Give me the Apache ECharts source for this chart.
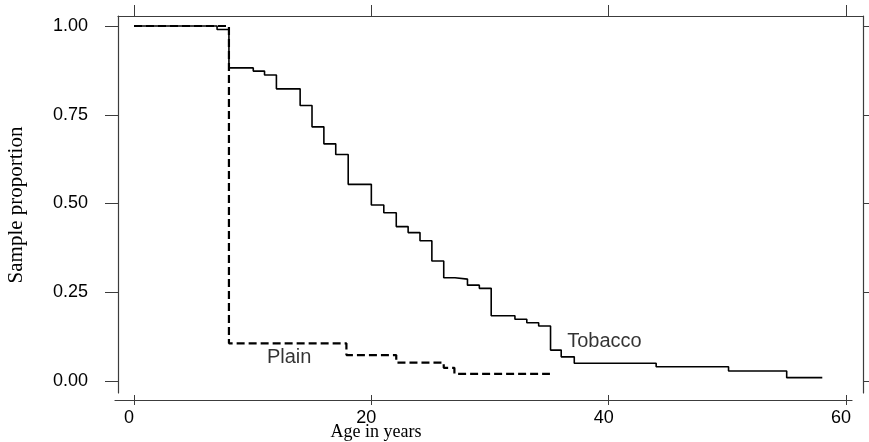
<!DOCTYPE html>
<html>
<head>
<meta charset="utf-8">
<script src="https://cdn.jsdelivr.net/npm/echarts@6/dist/echarts.min.js"></script>
<style>html,body{margin:0;padding:0;background:#fff;}#c{width:869px;height:442px;}</style>
</head>
<body>
<div id="c"></div>
<script>
// ---- data ----
const tobaccoTimes = [0, 7.0, 8.0, 10.05, 11.0, 12.0, 14.0, 15.0, 16.0, 17.0, 18.05, 20.0, 21.05, 22.1, 23.1, 24.1, 25.1, 26.1, 27.05, 28.1, 29.1, 30.1, 32.1, 33.1, 34.1, 35.1, 36.0, 37.1, 44.0, 50.1, 55.0, 58.0];
const tobaccoSurv  = [1.0, 0.99, 0.882, 0.873, 0.862, 0.823, 0.776, 0.716, 0.668, 0.638, 0.554, 0.496, 0.474, 0.435, 0.418, 0.395, 0.338, 0.291, 0.287, 0.270, 0.261, 0.184, 0.174, 0.164, 0.155, 0.087, 0.068, 0.050, 0.040, 0.028, 0.0094, 0.0094];
const plainTimes = [0, 8.0, 17.9, 22.1, 26.1, 27.0, 35.05];
const plainSurv  = [1.0, 0.106, 0.073, 0.052, 0.037, 0.020, 0.020];
const xTicks = [0, 20, 40, 60];
const yTicks = [0, 0.25, 0.5, 0.75, 1.0];
const yTickLabels = ['0.00', '0.25', '0.50', '0.75', '1.00'];
const curveLabels = [
  {name: 'Tobacco', x: 36.5, y: 0.110},
  {name: 'Plain', x: 11.2, y: 0.065}
];
const xTitle = 'Age in years';
const yTitle = 'Sample proportion';

const zip = (a, b) => a.map((v, i) => [v, b[i]]);
const frameColor = '#3c3c3c';
const sans = 'Liberation Sans, Arial, sans-serif';
const serif = 'Liberation Serif, Times New Roman, serif';

const chart = echarts.init(document.getElementById('c'));
chart.setOption({
  animation: false,
  backgroundColor: '#fff',
  grid: [
    {left: 118, right: 6, top: 16, bottom: 49},
    {left: 115, right: 17, top: 16, bottom: 42}
  ],
  xAxis: [
    { // data axis + top frame line
      gridIndex: 0, type: 'value', position: 'top',
      min: -1.348, max: 61.43,
      axisLine: {show: true, onZero: false, lineStyle: {color: frameColor, width: 1.2}},
      axisTick: {show: true, inside: false, length: 11, lineStyle: {color: frameColor}, customValues: xTicks},
      axisLabel: {show: false, customValues: xTicks},
      splitLine: {show: false}
    },
    { // bottom axis (labels, outward ticks)
      gridIndex: 1, type: 'value', position: 'bottom',
      min: -1.601, max: 60.50,
      axisLine: {show: true, onZero: false, lineStyle: {color: frameColor, width: 1.2}},
      axisTick: {show: true, inside: false, length: 5, lineStyle: {color: frameColor}, customValues: xTicks},
      axisLabel: {show: true, customValues: xTicks, formatter: v => String(v), color: '#000', fontFamily: sans, fontSize: 18, margin: 9, padding: [0, 10, 0, 0]},
      splitLine: {show: false}
    },
    { // bottom axis (inward ticks)
      gridIndex: 1, type: 'value', position: 'bottom',
      min: -1.601, max: 60.50,
      axisLine: {show: false, onZero: false},
      axisTick: {show: true, inside: true, length: 5, lineStyle: {color: frameColor}, customValues: xTicks},
      axisLabel: {show: false},
      splitLine: {show: false}
    }
  ],
  yAxis: [
    {
      gridIndex: 0, type: 'value', position: 'left',
      min: -0.0338, max: 1.0282,
      axisLine: {show: true, onZero: false, lineStyle: {color: frameColor, width: 1.2}},
      axisTick: {show: true, inside: false, length: 13, lineStyle: {color: frameColor}, customValues: yTicks},
      axisLabel: {show: true, customValues: yTicks, formatter: v => yTickLabels[yTicks.indexOf(v)] || '', color: '#000', fontFamily: sans, fontSize: 18, margin: 30},
      splitLine: {show: false}
    },
    {
      gridIndex: 0, type: 'value', position: 'right',
      min: -0.0338, max: 1.0282,
      axisLine: {show: true, onZero: false, lineStyle: {color: frameColor, width: 1.2}},
      axisTick: {show: true, inside: false, length: 6, lineStyle: {color: frameColor}, customValues: yTicks},
      axisLabel: {show: false},
      splitLine: {show: false}
    },
    {
      gridIndex: 1, type: 'value', min: 0, max: 1, show: false
    }
  ],
  series: [
    {
      name: 'Tobacco', type: 'line', xAxisIndex: 0, yAxisIndex: 0,
      step: 'end', showSymbol: false, symbol: 'none',
      data: zip(tobaccoTimes, tobaccoSurv),
      lineStyle: {color: '#000', width: 1.6}
    },
    {
      name: 'Plain', type: 'line', xAxisIndex: 0, yAxisIndex: 0,
      step: 'end', showSymbol: false, symbol: 'none',
      data: zip(plainTimes, plainSurv),
      lineStyle: {color: '#000', width: 2.2, type: [8, 4]}
    },
    {
      name: 'labels', type: 'scatter', xAxisIndex: 0, yAxisIndex: 0,
      symbolSize: 0, silent: true,
      data: curveLabels.map(d => ({value: [d.x, d.y], name: d.name})),
      label: {show: true, position: 'inside', align: 'left', verticalAlign: 'middle',
              formatter: p => p.name, color: '#000', fontFamily: sans, fontSize: 20}
    }
  ],
  graphic: [
    {type: 'text', x: 376, y: 423, style: {text: xTitle, font: '18px ' + serif, fill: '#000', textAlign: 'center', textVerticalAlign: 'top'}},
    {type: 'text', x: 6, y: 205, rotation: Math.PI / 2, style: {text: yTitle, font: '21px ' + serif, fill: '#000', textAlign: 'center', textVerticalAlign: 'top'}}
  ]
});
</script>
</body>
</html>
